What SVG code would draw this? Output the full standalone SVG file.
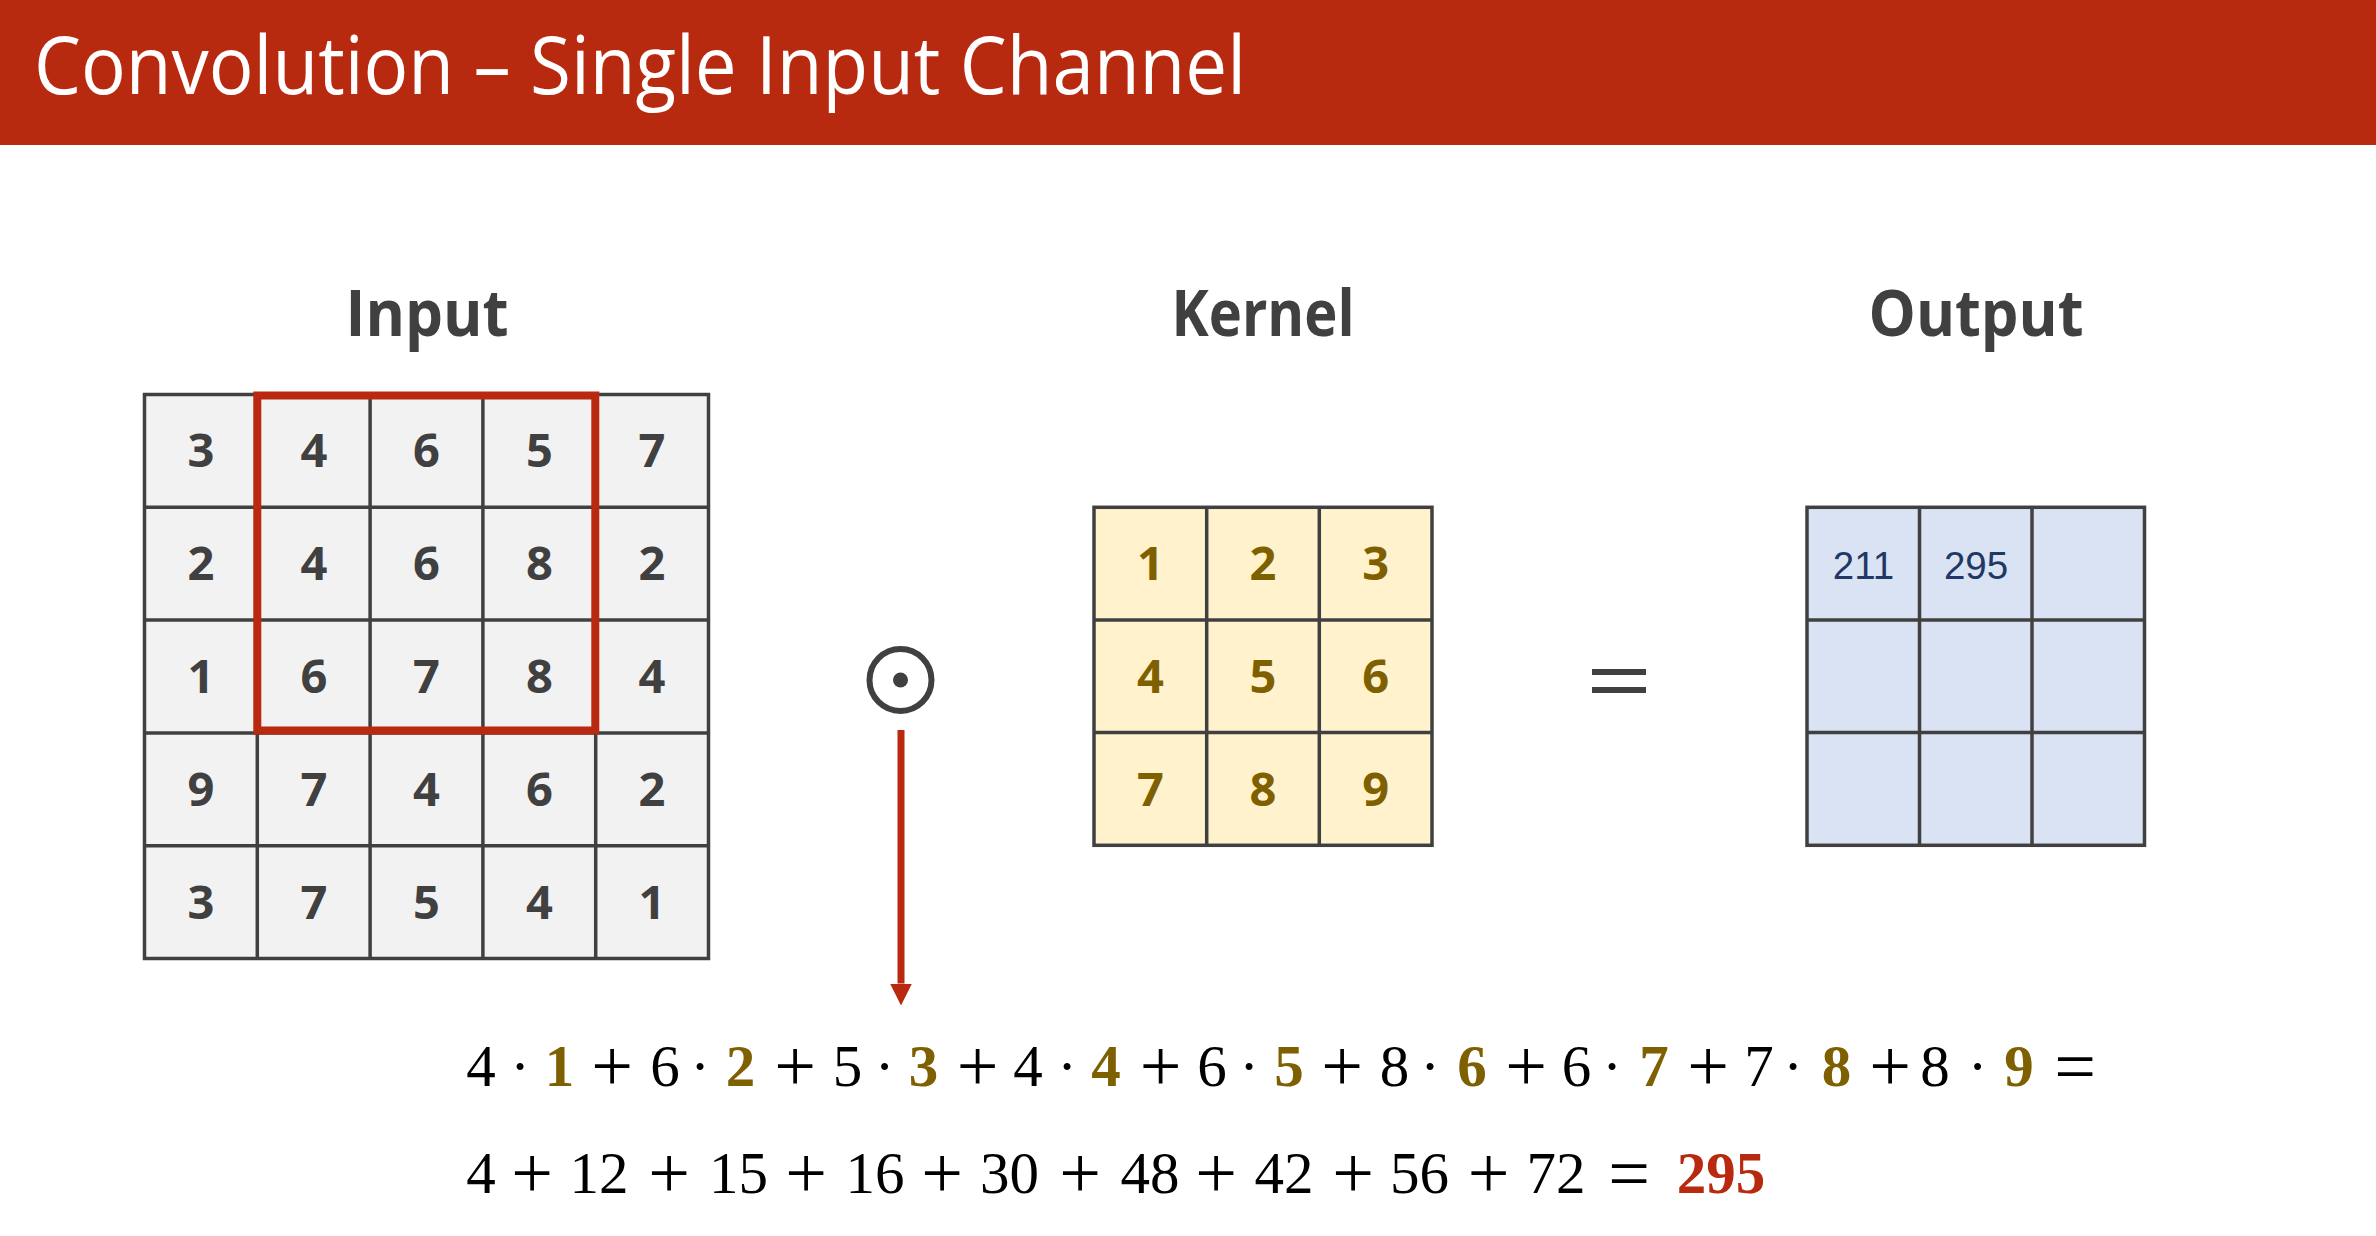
<svg xmlns="http://www.w3.org/2000/svg" width="2376" height="1236" viewBox="0 0 2376 1236">
  <defs>
    <style>
      .grid { stroke: #404040; stroke-width: 3.5; }
      .cellnum { font-family: "Open Sans", "Noto Sans", sans-serif; font-weight: 700; font-size: 47px; text-anchor: middle; }
      .in { fill: #404040; }
      .ker { fill: #7F6000; }
      .out { font-family: "Liberation Sans", Arial, sans-serif; font-size: 38.5px; fill: #1F3864; text-anchor: middle; }
      .head { font-family: "Open Sans", "Noto Sans", sans-serif; font-weight: 700; font-size: 64px; fill: #404040; text-anchor: middle; }
      .eq { font-family: "Liberation Serif", "Times New Roman", serif; font-size: 59px; fill: #000000; text-anchor: middle; }
      .op { font-size: 74px; }
      .kb { font-weight: 700; fill: #7F6000; }
      .res { font-weight: 700; fill: #B8290F; }
    </style>
    <marker id="arrowhead" viewBox="0 0 22 22" refX="0" refY="11" markerWidth="22" markerHeight="22" markerUnits="userSpaceOnUse" orient="auto">
      <path d="M0,0 L22,11 L0,22 z" fill="#B8290F"/>
    </marker>
  </defs>

  <rect width="2376" height="1236" fill="#FFFFFF"/>

  <!-- title bar -->
  <g id="title">
    <rect x="0" y="0" width="2376" height="145" fill="#B82A10"/>
    <text x="34" y="94" font-family="'Open Sans', 'Noto Sans', sans-serif" font-size="80" fill="#FFFFFF" textLength="1212" lengthAdjust="spacingAndGlyphs">Convolution – Single Input Channel</text>
  </g>

  <!-- column headings -->
  <g id="headings">
    <text class="head" x="427" y="336" textLength="163" lengthAdjust="spacingAndGlyphs">Input</text>
    <text class="head" x="1263" y="336" textLength="183" lengthAdjust="spacingAndGlyphs">Kernel</text>
    <text class="head" x="1976" y="336" textLength="215" lengthAdjust="spacingAndGlyphs">Output</text>
  </g>

  <!-- 5x5 input matrix -->
  <g id="input">
    <rect x="144.5" y="394.5" width="564" height="564" fill="#F2F2F2"/>
    <g class="grid" fill="none">
      <rect x="144.5" y="394.5" width="564" height="564"/>
      <line x1="257.3" y1="394.5" x2="257.3" y2="958.5"/>
      <line x1="370.1" y1="394.5" x2="370.1" y2="958.5"/>
      <line x1="482.9" y1="394.5" x2="482.9" y2="958.5"/>
      <line x1="595.7" y1="394.5" x2="595.7" y2="958.5"/>
      <line x1="144.5" y1="507.3" x2="708.5" y2="507.3"/>
      <line x1="144.5" y1="620.1" x2="708.5" y2="620.1"/>
      <line x1="144.5" y1="732.9" x2="708.5" y2="732.9"/>
      <line x1="144.5" y1="845.7" x2="708.5" y2="845.7"/>
    </g>
    <g class="cellnum in">
      <text x="201" y="467">3</text><text x="314" y="467">4</text><text x="426.5" y="467">6</text><text x="539.5" y="467">5</text><text x="652" y="467">7</text>
      <text x="201" y="580">2</text><text x="314" y="580">4</text><text x="426.5" y="580">6</text><text x="539.5" y="580">8</text><text x="652" y="580">2</text>
      <text x="201" y="693">1</text><text x="314" y="693">6</text><text x="426.5" y="693">7</text><text x="539.5" y="693">8</text><text x="652" y="693">4</text>
      <text x="201" y="806">9</text><text x="314" y="806">7</text><text x="426.5" y="806">4</text><text x="539.5" y="806">6</text><text x="652" y="806">2</text>
      <text x="201" y="919">3</text><text x="314" y="919">7</text><text x="426.5" y="919">5</text><text x="539.5" y="919">4</text><text x="652" y="919">1</text>
    </g>
    <!-- current receptive field -->
    <rect id="window" x="257.3" y="395.5" width="338" height="335" fill="none" stroke="#B8290F" stroke-width="8"/>
  </g>

  <!-- element-wise product operator -->
  <g id="odot">
    <circle cx="900.5" cy="680" r="31" fill="none" stroke="#404040" stroke-width="6"/>
    <circle cx="900.5" cy="680" r="7.5" fill="#404040"/>
  </g>

  <!-- 3x3 kernel -->
  <g id="kernel">
    <rect x="1094" y="507.3" width="338" height="338" fill="#FFF2CC"/>
    <g class="grid" fill="none">
      <rect x="1094" y="507.3" width="338" height="338"/>
      <line x1="1206.7" y1="507.3" x2="1206.7" y2="845.3"/>
      <line x1="1319.3" y1="507.3" x2="1319.3" y2="845.3"/>
      <line x1="1094" y1="620" x2="1432" y2="620"/>
      <line x1="1094" y1="732.6" x2="1432" y2="732.6"/>
    </g>
    <g class="cellnum ker">
      <text x="1150.5" y="580">1</text><text x="1263" y="580">2</text><text x="1375.7" y="580">3</text>
      <text x="1150.5" y="693">4</text><text x="1263" y="693">5</text><text x="1375.7" y="693">6</text>
      <text x="1150.5" y="806">7</text><text x="1263" y="806">8</text><text x="1375.7" y="806">9</text>
    </g>
  </g>

  <!-- equals sign -->
  <g id="equals" fill="#404040">
    <rect x="1592" y="669" width="54" height="6"/>
    <rect x="1592" y="687" width="54" height="6"/>
  </g>

  <!-- 3x3 output -->
  <g id="output">
    <rect x="1807" y="507.3" width="337.5" height="338" fill="#DAE3F3"/>
    <g class="grid" fill="none">
      <rect x="1807" y="507.3" width="337.5" height="338"/>
      <line x1="1919.5" y1="507.3" x2="1919.5" y2="845.3"/>
      <line x1="2032" y1="507.3" x2="2032" y2="845.3"/>
      <line x1="1807" y1="620" x2="2144.5" y2="620"/>
      <line x1="1807" y1="732.6" x2="2144.5" y2="732.6"/>
    </g>
    <text class="out" x="1863.5" y="579.3">211</text>
    <text class="out" x="1976" y="579.3">295</text>
  </g>

  <!-- connector from the operator down to the worked sum -->
  <g id="connectors">
    <line x1="901" y1="730" x2="901" y2="983.5" stroke="#B8290F" stroke-width="7" marker-end="url(#arrowhead)"/>
  </g>

  <!-- worked computation: operands and operators are separate runs so the
       larger operator glyphs can sit slightly lower on the line -->
  <g id="equation">
    <text class="eq" y="1086"><tspan x="481">4</tspan><tspan x="520">·</tspan><tspan class="kb" x="559.5">1</tspan><tspan x="665">6</tspan><tspan x="700">·</tspan><tspan class="kb" x="740.5">2</tspan><tspan x="847.5">5</tspan><tspan x="884.5">·</tspan><tspan class="kb" x="923.5">3</tspan><tspan x="1028">4</tspan><tspan x="1067">·</tspan><tspan class="kb" x="1106">4</tspan><tspan x="1212">6</tspan><tspan x="1249">·</tspan><tspan class="kb" x="1289">5</tspan><tspan x="1394.5">8</tspan><tspan x="1430">·</tspan><tspan class="kb" x="1472">6</tspan><tspan x="1576.5">6</tspan><tspan x="1612">·</tspan><tspan class="kb" x="1654">7</tspan><tspan x="1759">7</tspan><tspan x="1793">·</tspan><tspan class="kb" x="1836.5">8</tspan><tspan x="1935">8</tspan><tspan x="1977.5">·</tspan><tspan class="kb" x="2019">9</tspan></text>
    <text class="eq op" y="1091"><tspan x="612">+</tspan><tspan x="795">+</tspan><tspan x="977.5">+</tspan><tspan x="1160.5">+</tspan><tspan x="1342">+</tspan><tspan x="1526">+</tspan><tspan x="1708">+</tspan><tspan x="1890">+</tspan><tspan x="2075">=</tspan></text>
    <text class="eq" y="1193"><tspan x="481">4</tspan><tspan x="599">12</tspan><tspan x="738.5">15</tspan><tspan x="875">16</tspan><tspan x="1009.5">30</tspan><tspan x="1150">48</tspan><tspan x="1284">42</tspan><tspan x="1419.5">56</tspan><tspan x="1556">72</tspan><tspan class="res" x="1721">295</tspan></text>
    <text class="eq op" y="1198"><tspan x="532">+</tspan><tspan x="669">+</tspan><tspan x="806">+</tspan><tspan x="942">+</tspan><tspan x="1080">+</tspan><tspan x="1216">+</tspan><tspan x="1353">+</tspan><tspan x="1488.5">+</tspan><tspan x="1629">=</tspan></text>
  </g>
</svg>
